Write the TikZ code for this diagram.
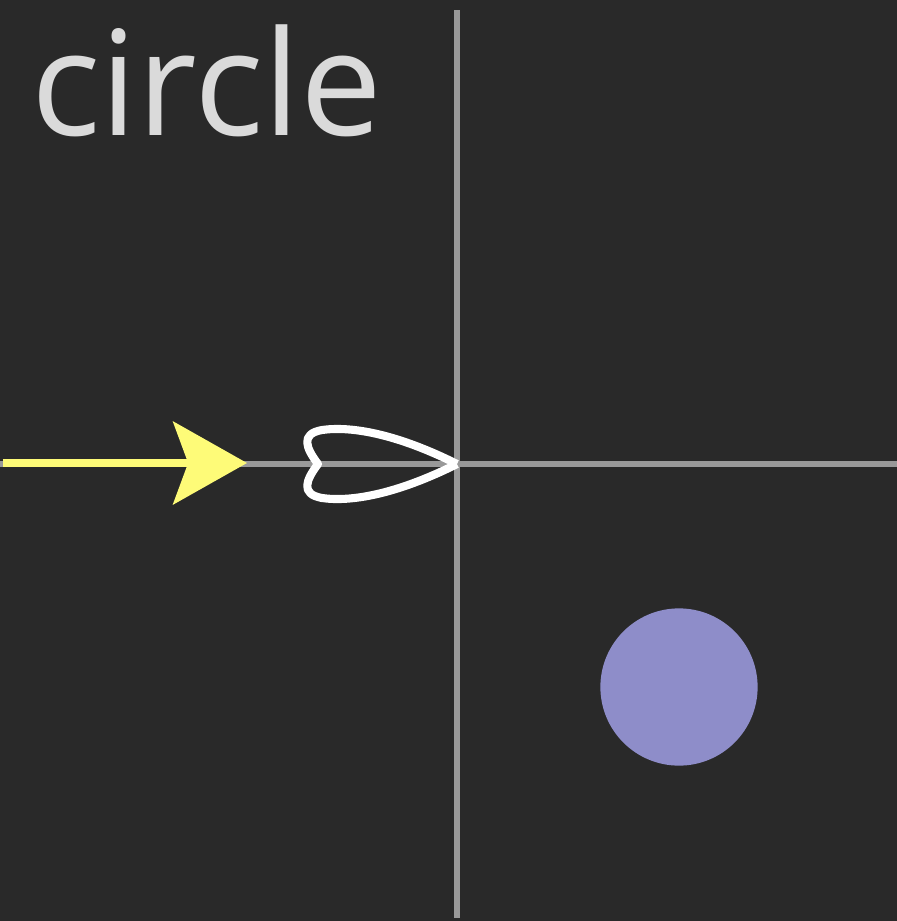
\documentclass[tikz,border=0pt]{standalone}
\usepackage{fontspec}
\setmainfont{Open Sans}
\usepackage{tikz}
\usetikzlibrary{arrows.meta}
\definecolor{cbg}{HTML}{292929}
\definecolor{caxis}{HTML}{999999}
\definecolor{ctext}{HTML}{DADADA}
\definecolor{cray}{HTML}{FEFB78}
\definecolor{cdot}{HTML}{8E8DC9}
\tikzset{
  axis/.style  = {draw=caxis, line width=3.3pt},
  ray/.style   = {draw=cray, line width=4.6pt,
                  -{Stealth[length=42pt, width=47pt, inset=8.5pt, fill=cray]}},
  tipout/.style = {draw=white, line width=4.6pt, line join=round},
  dot/.style   = {circle, fill=cdot, minimum size=89.5pt, inner sep=0pt},
  lbl/.style   = {font=\fontsize{83}{100}\selectfont, text=ctext, inner sep=0pt},
}
\begin{document}
\begin{tikzpicture}[x=0.02cm, y=-0.02cm]

% background fixes the page
\fill[cbg] (0,0) rectangle (897,921);
\useasboundingbox (0,0) rectangle (897,921);

\coordinate (o)  at (457,464);
\coordinate (vt) at (457,10);
\coordinate (vb) at (457,918);
\coordinate (hl) at (0,464);
\coordinate (hr) at (897,464);
\draw[axis] (vt) -- (vb);
\draw[axis] (hl) -- (hr);

\node[lbl, anchor=base west] (title) at (31,135) {circle};

% incoming ray
\coordinate (rs) at (3,463);
\coordinate (re) at (247,463);
\draw[ray] (rs) -- (re);

% outlined tip sitting on the origin
\draw[tipout] (o) .. controls (395,433) and (350,426) .. (322,430)
  .. controls (300,434) and (306,448) .. (318,464)
  .. controls (306,480) and (300,494) .. (322,498)
  .. controls (350,502) and (395,495) .. (o);

\node[dot] (ball) at (679,687) {};

\end{tikzpicture}
\end{document}
